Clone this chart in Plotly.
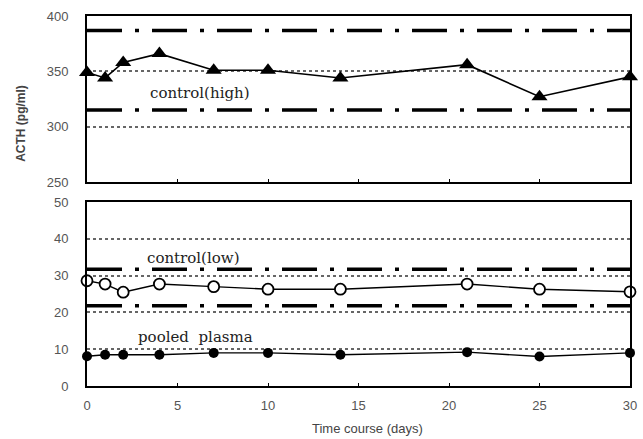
import plotly.graph_objects as go

days = [0, 1, 2, 4, 7, 10, 14, 21, 25, 30]
control_high = [349, 344, 358, 366, 351, 351, 344, 356, 327, 345]
control_low = [28.6, 27.7, 25.5, 27.7, 27.0, 26.3, 26.3, 27.7, 26.3, 25.6]
pooled_plasma = [8.1, 8.5, 8.5, 8.5, 9.0, 9.0, 8.5, 9.2, 8.0, 9.0]

high_limits = [387, 315]
low_limits = [31.7, 21.8]

x_ticks = [0, 5, 10, 15, 20, 25, 30]
top_ticks = [250, 300, 350, 400]
bottom_ticks = [0, 10, 20, 30, 40, 50]

fig = go.Figure()

DASHDOT = "35px,13px,4px,13px"

for v in high_limits:
    fig.add_trace(go.Scatter(x=[0, 30], y=[v, v], mode="lines", xaxis="x2", yaxis="y2",
                             line=dict(color="black", width=3.5, dash=DASHDOT), showlegend=False,
                             hoverinfo="skip"))
for v in low_limits:
    fig.add_trace(go.Scatter(x=[0, 30], y=[v, v], mode="lines", xaxis="x", yaxis="y",
                             line=dict(color="black", width=3.5, dash=DASHDOT), showlegend=False,
                             hoverinfo="skip"))

fig.add_trace(go.Scatter(x=days, y=control_high, mode="lines+markers", xaxis="x2", yaxis="y2",
                         line=dict(color="black", width=1.6),
                         marker=dict(symbol="triangle-up", size=14, color="black"),
                         cliponaxis=False, showlegend=False))
fig.add_trace(go.Scatter(x=days, y=control_low, mode="lines+markers", xaxis="x", yaxis="y",
                         line=dict(color="black", width=1.4),
                         marker=dict(symbol="circle", size=11, color="white",
                                     line=dict(color="black", width=1.8)),
                         cliponaxis=False, showlegend=False))
fig.add_trace(go.Scatter(x=days, y=pooled_plasma, mode="lines+markers", xaxis="x", yaxis="y",
                         line=dict(color="black", width=1.4),
                         marker=dict(symbol="circle", size=10, color="black"),
                         cliponaxis=False, showlegend=False))

tickfont = dict(family="Liberation Sans", size=13, color="#555")
common_x = dict(range=[0, 30], tickvals=x_ticks, ticks="inside", ticklen=3, tickcolor="black",
                showline=True, linecolor="black", linewidth=2, mirror=True,
                showgrid=False, zeroline=False)
grid = dict(showgrid=True, gridcolor="#666", griddash="dot", gridwidth=2)

PW, PH, L, B = 550, 370, 87, 386


def px(xp):
    return (xp - L) / PW


def py(yp):
    return (B - yp) / PH


serif = dict(family="DejaVu Serif", size=15, color="#222")

fig.update_layout(
    width=643, height=439,
    margin=dict(l=87, r=6, t=16, b=53),
    paper_bgcolor="white", plot_bgcolor="white",
    xaxis=dict(**common_x, anchor="y", domain=[0, 1], tickfont=tickfont, ticklabelstandoff=6),
    xaxis2=dict(**common_x, anchor="y2", domain=[0, 1], showticklabels=False, matches="x"),
    yaxis=dict(domain=[0, 0.4973], range=[0, 50], tickvals=bottom_ticks, ticks="",
               showline=True, linecolor="black", linewidth=2, mirror=True, zeroline=False,
               tickfont=tickfont, ticklabelstandoff=14, **grid),
    yaxis2=dict(domain=[0.5514, 1], range=[250, 400], tickvals=top_ticks, ticks="",
                showline=True, linecolor="black", linewidth=2, mirror=True, zeroline=False,
                tickfont=tickfont, ticklabelstandoff=14, **grid),
    annotations=[
        dict(text="<b>ACTH (pg/ml)</b>", x=px(20), y=py(123), xref="paper", yref="paper",
             showarrow=False, textangle=-90, xanchor="center", yanchor="middle",
             font=dict(family="Liberation Sans", size=12, color="#444")),
        dict(text="Time course (days)", x=px(371), y=py(428), xref="paper", yref="paper",
             showarrow=False, xanchor="center", yanchor="middle",
             font=dict(family="Liberation Sans", size=13, color="#444")),
        dict(text="control(high)", xref="x2", yref="y2", x=6.25, y=330.5, showarrow=False,
             font=serif),
        dict(text="control(low)", xref="x", yref="y", x=5.9, y=34.9, showarrow=False,
             font=serif),
        dict(text="pooled  plasma", xref="x", yref="y", x=5.97, y=13.2, showarrow=False,
             font=serif),
    ],
)

fig.write_html("out.html")
